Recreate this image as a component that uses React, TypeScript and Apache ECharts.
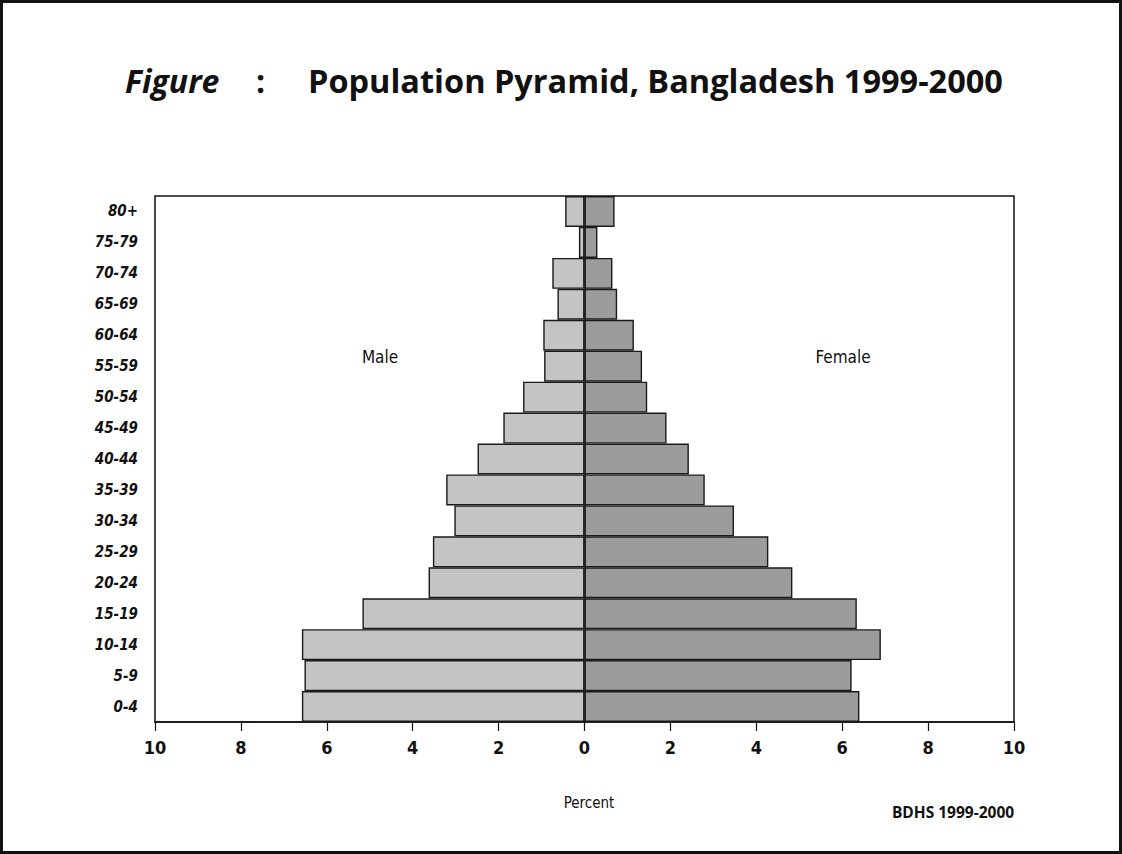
import React, { useEffect, useRef } from "react";
import * as echarts from "echarts";

const ageGroups = ["0-4", "5-9", "10-14", "15-19", "20-24", "25-29", "30-34", "35-39", "40-44", "45-49", "50-54", "55-59", "60-64", "65-69", "70-74", "75-79", "80+"];
const maleValues = [6.58, 6.52, 6.58, 5.17, 3.63, 3.53, 3.03, 3.22, 2.49, 1.89, 1.43, 0.94, 0.96, 0.63, 0.75, 0.13, 0.45];
const femaleValues = [6.4, 6.22, 6.9, 6.34, 4.84, 4.28, 3.48, 2.8, 2.43, 1.91, 1.46, 1.34, 1.15, 0.76, 0.65, 0.3, 0.7];
const xTicks = [-10, -8, -6, -4, -2, 0, 2, 4, 6, 8, 10];

export default function App() {
  const ref = useRef<HTMLDivElement>(null);
  useEffect(() => {
    if (!ref.current) return;
    const chart = echarts.init(ref.current, null, { renderer: "svg" });
    const font = "'Open Sans', Lato, sans-serif";
    const narrow = "'Liberation Sans Narrow', 'DejaVu Sans Condensed', 'Open Sans', sans-serif";
    chart.setOption({
      animation: false,
      backgroundColor: "#ffffff",
      grid: { left: 155, right: 108, top: 196, bottom: 132, show: true, borderColor: "#111", borderWidth: 1.5, containLabel: false },
      xAxis: {
        type: "value",
        min: xTicks[0],
        max: xTicks[xTicks.length - 1],
        interval: 2,
        axisLine: { show: true, lineStyle: { color: "#111", width: 1.5 } },
        axisTick: { show: true, length: 9, lineStyle: { color: "#111", width: 1.2 } },
        splitLine: { show: false },
        axisLabel: {
          margin: 16,
          fontFamily: narrow,
          fontWeight: "bold",
          fontSize: 18,
          color: "#111",
          formatter: (v: number) => String(Math.abs(v)),
        },
      },
      yAxis: {
        type: "category",
        data: ageGroups,
        axisLine: { show: true, lineStyle: { color: "#111", width: 1.5 } },
        axisTick: { show: false },
        axisLabel: {
          margin: 17,
          fontFamily: narrow,
          fontWeight: "bold",
          fontStyle: "italic",
          fontSize: 15,
          color: "#111",
        },
      },
      series: [
        {
          name: "Male",
          type: "bar",
          data: maleValues.map((v) => -v),
          barCategoryGap: "0%",
          barGap: "-100%",
          itemStyle: { color: "#c4c4c4", borderColor: "#1a1a1a", borderWidth: 1.4 },
        },
        {
          name: "Female",
          type: "bar",
          data: femaleValues,
          barCategoryGap: "0%",
          barGap: "-100%",
          itemStyle: { color: "#9c9c9c", borderColor: "#1a1a1a", borderWidth: 1.4 },
        },
      ],
      graphic: [
        { type: "rect", shape: { x: 1.5, y: 1.5, width: 1119, height: 851 }, style: { fill: "none", stroke: "#111", lineWidth: 3 } },
        { type: "text", x: 125, y: 64, style: { text: "Figure", font: `italic bold 32px ${font}`, fill: "#111", verticalAlign: "top" } },
        { type: "text", x: 256, y: 64, style: { text: ":", font: `bold 32px ${font}`, fill: "#111", verticalAlign: "top" } },
        { type: "text", x: 308, y: 64, style: { text: "Population Pyramid, Bangladesh 1999-2000", font: `bold 32.5px ${font}`, fill: "#111", verticalAlign: "top" } },
        { type: "text", x: 380, y: 357, style: { text: "Male", font: `17px ${narrow}`, fill: "#111", align: "center", verticalAlign: "middle" } },
        { type: "text", x: 843, y: 357, style: { text: "Female", font: `17px ${narrow}`, fill: "#111", align: "center", verticalAlign: "middle" } },
        { type: "text", x: 589, y: 803, style: { text: "Percent", font: `15px ${narrow}`, fill: "#111", align: "center", verticalAlign: "middle" } },
        { type: "text", x: 953, y: 812, style: { text: "BDHS 1999-2000", font: `bold 15.5px ${font}`, fill: "#111", align: "center", verticalAlign: "middle" } },
      ],
    });
    return () => chart.dispose();
  }, []);
  return <div ref={ref} style={{ position: "fixed", left: 0, top: 0, width: 1122, height: 854 }} />;
}
